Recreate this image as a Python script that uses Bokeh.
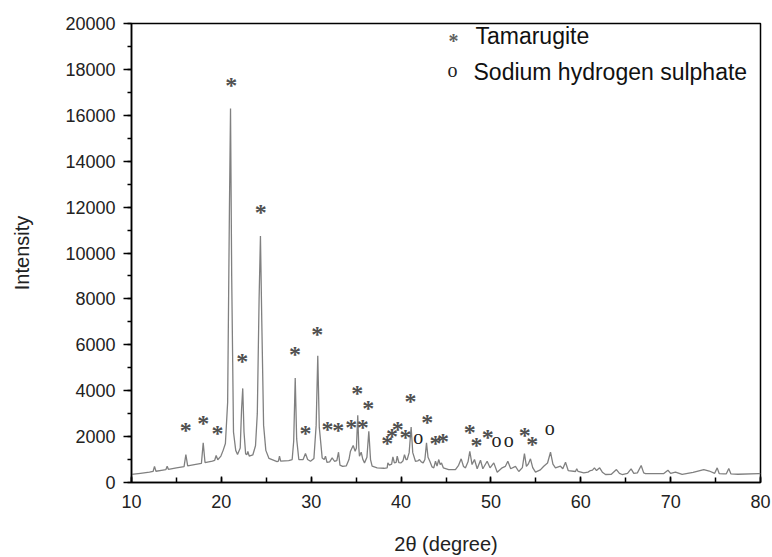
from bokeh.plotting import figure
from bokeh.models import Range1d, SingleIntervalTicker, Label, ColumnDataSource
from bokeh.core.properties import value
from bokeh.embed import file_html
from bokeh.resources import INLINE

# ---- data ----
two_theta = [10.0, 11.0, 12.0, 12.4, 12.56, 12.72, 13.5, 13.82, 13.97, 14.12, 15.0, 15.85, 16.05, 16.25,
             17.0, 17.78, 17.98, 18.18, 19.0, 19.25, 19.42, 19.6, 19.95, 20.2, 20.45, 20.7, 20.9, 21.02,
             21.15, 21.35, 21.6, 21.8, 22.1, 22.25, 22.38, 22.52, 22.7, 22.85, 22.95, 23.1, 23.5, 23.8,
             24.0, 24.2, 24.35, 24.5, 24.7, 24.95, 25.3, 26.2, 26.35, 26.47, 26.6, 27.5, 27.88, 28.05,
             28.22, 28.38, 28.62, 29.1, 29.36, 29.6, 29.92, 30.3, 30.55, 30.73, 30.9, 31.22, 31.45, 31.59,
             31.75, 32.05, 32.33, 32.59, 32.85, 33.04, 33.2, 33.5, 33.9, 34.2, 34.37, 34.67, 34.89, 35.03,
             35.18, 35.3, 35.37, 35.56, 35.75, 35.93, 36.2, 36.41, 36.6, 36.78, 37.34, 38.1, 38.45, 38.53,
             38.7, 38.95, 39.09, 39.25, 39.45, 39.57, 39.75, 40.0, 40.22, 40.38, 40.55, 40.68, 40.9, 41.12,
             41.3, 41.6, 41.85, 42.05, 42.25, 42.46, 42.65, 42.83, 43.0, 43.2, 43.45, 43.64, 43.83, 44.0,
             44.2, 44.35, 44.5, 44.7, 45.3, 46.05, 46.4, 46.69, 46.95, 47.17, 47.45, 47.65, 47.9, 48.17,
             48.47, 48.84, 49.1, 49.58, 49.9, 50.32, 50.7, 51.25, 51.6, 51.88, 52.2, 52.73, 53.1, 53.5,
             53.73, 53.95, 54.15, 54.4, 54.65, 54.96, 55.5, 55.88, 56.3, 56.63, 56.9, 57.18, 57.74, 58.0,
             58.3, 58.6, 59.41, 59.55, 59.7, 60.33, 60.8, 61.08, 61.3, 61.52, 61.75, 62.1, 62.4, 62.75,
             63.4, 63.97, 64.3, 64.6, 65.2, 65.6, 65.9, 66.3, 66.72, 67.0, 67.2, 69.24, 69.7, 70.0,
             70.54, 71.28, 72.5, 73.69, 74.3, 74.9, 75.18, 75.4, 75.9, 76.2, 76.47, 76.7, 77.5, 79.8, 80.0]
intensity = [350, 400, 450, 480, 700, 490, 540, 560, 710, 570, 640, 690, 1217, 720,
             780, 830, 1725, 870, 930, 960, 1174, 990, 1150, 1400, 1700, 3500, 12000, 16300,
             9000, 2200, 1400, 1217, 1500, 3200, 4100, 2200, 1250, 1217, 1350, 1150, 1200, 1600,
             3000, 8000, 10740, 7000, 2500, 1400, 1050, 913, 930, 1145, 930, 950, 1000, 1800,
             4550, 1900, 1000, 1000, 1260, 1000, 926, 1050, 2500, 5520, 2400, 1072, 1000, 1145,
             883, 900, 1072, 926, 950, 1320, 760, 700, 720, 1000, 1362, 1610, 1362, 1500,
             2930, 1500, 1145, 1320, 1000, 855, 1100, 2232, 1000, 710, 638, 620, 640, 855,
             760, 800, 1116, 860, 880, 1145, 870, 855, 950, 1217, 1000, 1000, 1300, 2420,
             1300, 926, 940, 1000, 900, 855, 1000, 1725, 1100, 926, 680, 640, 926, 720,
             1000, 780, 850, 640, 565, 565, 750, 1030, 700, 638, 900, 1362, 783, 1000,
             600, 970, 600, 926, 640, 855, 450, 638, 700, 926, 600, 700, 480, 650,
             1260, 700, 800, 1030, 650, 450, 550, 710, 850, 1320, 800, 640, 710, 600,
             883, 520, 480, 600, 480, 420, 450, 520, 540, 638, 520, 638, 450, 348,
             360, 565, 400, 348, 400, 594, 400, 420, 740, 420, 390, 390, 535, 400,
             450, 350, 440, 565, 500, 400, 638, 390, 380, 380, 610, 380, 360, 390, 390]

# Tamarugite peak markers (*)
tam_x = [16.05, 17.98, 19.57, 21.09, 22.32, 24.39, 28.2, 29.36, 30.66, 31.81, 33.0, 34.45, 35.11,
         35.74, 36.34, 38.45, 39.0, 39.63, 40.49, 41.05, 42.9, 43.83, 44.68, 47.65, 48.39, 49.65,
         53.77, 54.59]
tam_y = [2333, 2638, 2203, 17377, 5348, 11840, 5638, 2203, 6508, 2377, 2348, 2478, 3928,
         2478, 3290, 1768, 2087, 2362, 2043, 3580, 2696, 1768, 1870, 2232, 1696, 2043,
         2116, 1725]
# Sodium hydrogen sulphate markers (o)
nhs_x = [41.9, 50.62, 51.99, 56.55]
nhs_y = [1942, 1797, 1797, 2333]

legend_labels = ["Tamarugite", "Sodium hydrogen sulphate"]
# legend anchor positions (data units)
legend_marker_x = [45.83, 45.72]
legend_marker_y = [19300, 17957]
legend_text_x = [48.28, 48.06]
legend_text_y = [19435, 17870]

x_ticks_interval = 10
y_ticks_interval = 2000

# ---- figure ----
p = figure(width=772, height=557, output_backend="svg", toolbar_location=None,
           x_range=Range1d(10, 80), y_range=Range1d(0, 20000),
           min_border_left=131, min_border_right=12, min_border_top=23, min_border_bottom=74)
p.background_fill_color = "white"
p.border_fill_color = "white"
p.xgrid.visible = False
p.ygrid.visible = False
p.outline_line_color = "black"
p.outline_line_width = 1.5

p.line(two_theta, intensity, line_color="#808080", line_width=1.3)

STAR_FONT = "Liberation Serif"
tam_src = ColumnDataSource(dict(x=tam_x, y=tam_y, t=["*"] * len(tam_x)))
p.text(x="x", y="y", text="t", source=tam_src, text_font=value(STAR_FONT),
       text_font_size="24px", text_font_style="bold", text_color="#505050", text_align="center",
       text_baseline="middle", y_offset=1)
nhs_src = ColumnDataSource(dict(x=nhs_x, y=nhs_y, t=["o"] * len(nhs_x)))
p.text(x="x", y="y", text="t", source=nhs_src, text_font=value(STAR_FONT),
       text_font_size="20px", text_color="#222222", text_align="center",
       text_baseline="middle", y_offset=-1)

# axes
for ax in (p.xaxis[0], p.yaxis[0]):
    ax.axis_line_color = "black"
    ax.axis_line_width = 1.5
    ax.major_tick_line_color = "black"
    ax.minor_tick_line_color = "black"
    ax.major_tick_line_width = 1.5
    ax.minor_tick_line_width = 1.5
    ax.major_label_text_font = "Liberation Sans"
    ax.major_label_text_font_size = "18px"
    ax.major_label_text_color = "#222222"
    ax.axis_label_text_font = "Liberation Sans"
    ax.axis_label_text_font_size = "20px"
    ax.axis_label_text_font_style = "normal"
    ax.axis_label_text_color = "#222222"

p.xaxis.ticker = SingleIntervalTicker(interval=x_ticks_interval, num_minor_ticks=2)
p.yaxis.ticker = SingleIntervalTicker(interval=y_ticks_interval, num_minor_ticks=2)

p.xaxis.major_tick_in = 6
p.xaxis.major_tick_out = 0
p.xaxis.minor_tick_in = 5
p.xaxis.minor_tick_out = 0
p.xaxis.major_label_standoff = 12
p.xaxis.axis_label = "2\u03b8 (degree)"
p.xaxis.axis_label_standoff = 22

p.yaxis.major_tick_in = 0
p.yaxis.major_tick_out = 8
p.yaxis.minor_tick_in = 0
p.yaxis.minor_tick_out = 4
p.yaxis.major_label_standoff = 8
p.yaxis.axis_label = "Intensity"
p.yaxis.axis_label_standoff = 29

# legend (no frame)
p.add_layout(Label(x=legend_marker_x[0], y=legend_marker_y[0], text="*",
                   text_font=STAR_FONT, text_font_size="20px", text_font_style="bold",
                   text_color="#606060", text_align="center", text_baseline="middle", y_offset=-1))
p.add_layout(Label(x=legend_marker_x[1], y=legend_marker_y[1], text="o",
                   text_font=STAR_FONT, text_font_size="20px", text_color="#222222",
                   text_align="center", text_baseline="middle"))
p.add_layout(Label(x=legend_text_x[0], y=legend_text_y[0], text=legend_labels[0],
                   text_font="Liberation Sans", text_font_size="23px", text_color="#111111",
                   text_baseline="middle"))
p.add_layout(Label(x=legend_text_x[1], y=legend_text_y[1], text=legend_labels[1],
                   text_font="Liberation Sans", text_font_size="23px", text_color="#111111",
                   text_baseline="middle"))

open("out.html", "w").write(file_html(p, INLINE))
